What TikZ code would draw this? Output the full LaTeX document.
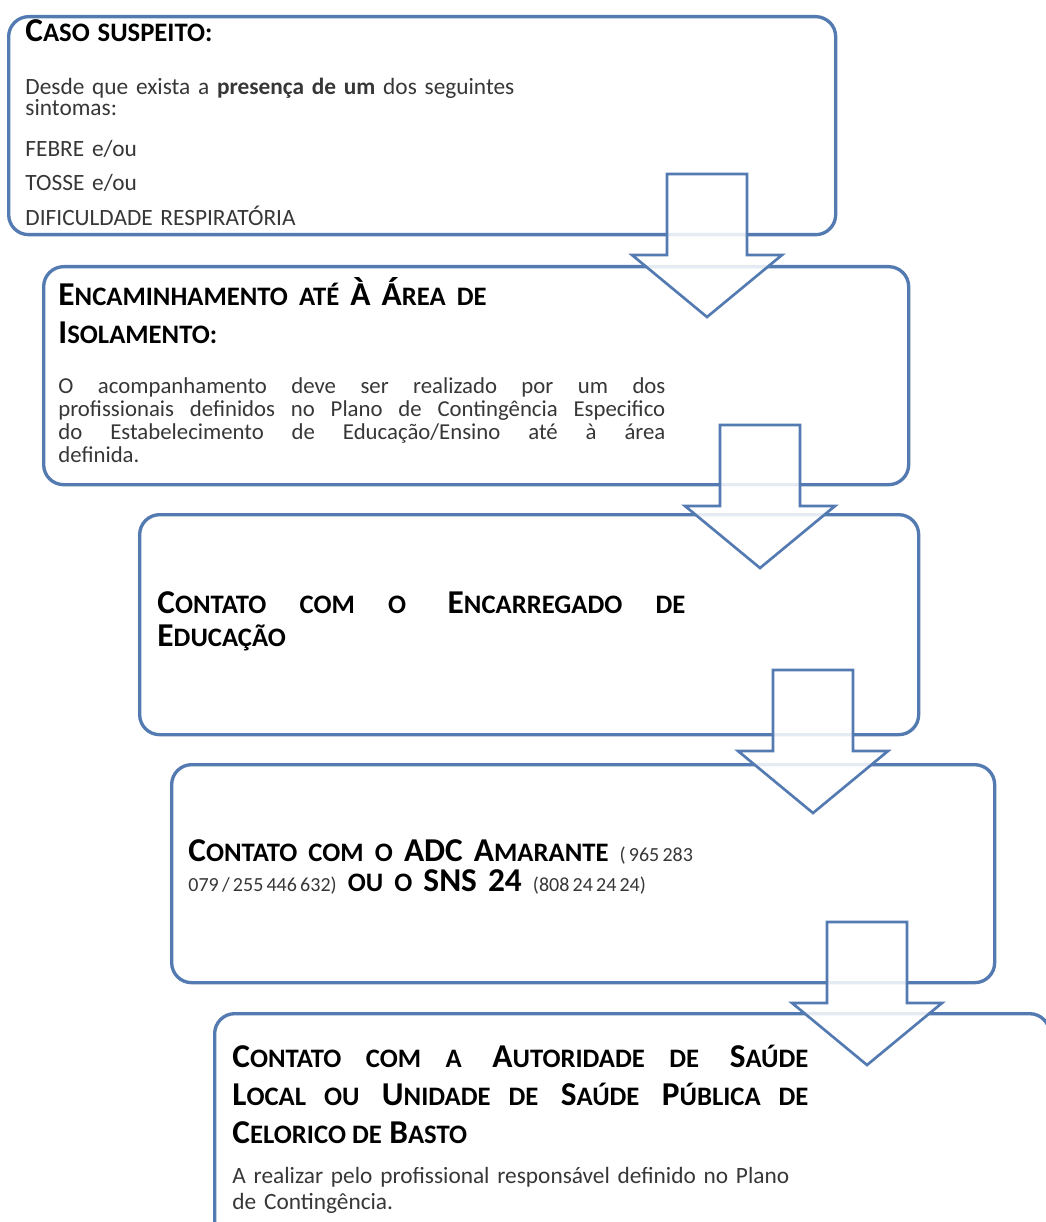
\documentclass[tikz,border=0pt]{standalone}
\usepackage{fontspec}
\setmainfont{Carlito}
\usetikzlibrary{positioning}

\definecolor{borda}{RGB}{84,122,178}
\definecolor{cinza}{RGB}{55,55,55}

\makeatletter
\newcommand\versal[1]{{\fontsize{\fpeval{0.8*\f@size}}{\f@baselineskip}\selectfont #1}}
\makeatother
\newcommand\fone[1]{{\mdseries\color{cinza}\fontsize{9}{9}\selectfont\spaceskip=.16em plus .05em\relax #1}}
\newcommand\seta[1]{\draw[seta] (#1) ++(-40,0) -- ++(80,0) -- ++(0,81) -- ++(35,0)
  -- ++(-75,62) -- ++(-75,-62) -- ++(35,0) -- cycle;}
\AtBeginDocument{\lineskiplimit=-100pt\relax}

\tikzset{
  caixa/.style={draw=borda, line width=1.5pt, rounded corners=9pt, fill=white,
    anchor=north west, inner sep=0pt},
  seta/.style={draw=borda, line width=1.2pt, fill=white, fill opacity=0.85},
  texto/.style={anchor=base west, inner sep=0pt, text=cinza, align=left},
  titulo/.style={texto, text=black, font=\bfseries\fontsize{15}{17.1}\selectfont},
}

\begin{document}
\begin{tikzpicture}[x=0.45pt, y=-0.45pt]
        \useasboundingbox (0,0) rectangle (1045,1222);
        \node[caixa, minimum width=827*0.45pt, minimum height=218*0.45pt] (c1) at (7,15) {};
        \node[caixa, minimum width=865*0.45pt, minimum height=218*0.45pt] (c2) at (42,265) {};
        \node[caixa, minimum width=779*0.45pt, minimum height=220*0.45pt] (c3) at (138,513) {};
        \node[caixa, minimum width=823*0.45pt, minimum height=218*0.45pt] (c4) at (170,763) {};
        \node[caixa, minimum width=835*0.45pt, minimum height=300*0.45pt] (c5) at (213,1012) {};
        \coordinate (s1) at (707,174);
        \coordinate (s2) at (760,425);
        \coordinate (s3) at (813,670);
        \coordinate (s4) at (867,922);
        \seta{s1}
        \seta{s2}
        \seta{s3}
        \seta{s4}
        \node[texto, text width=600*0.45pt, font=\fontsize{10.5}{9.45}\selectfont] (t1) at (25,42) {
            {\color{black}\bfseries\fontsize{15}{9.45}\selectfont C\versal{ASO SUSPEITO:}}\\[14.4pt]
            Desde que exista a \textbf{presença de um} dos seguintes\\
            sintomas:\\[9pt]
            FEBRE e/ou\\[5.85pt]
            TOSSE e/ou\\[6.3pt]
            DIFICULDADE RESPIRATÓRIA};
        \node[titulo, text width=500*0.45pt] (t2) at (58,305) {
            E\versal{NCAMINHAMENTO ATÉ} À Á\versal{REA DE}\\
            I\versal{SOLAMENTO:}};
        \node[texto, text width=607*0.45pt, align=justify,
            font=\fontsize{10.25}{10.35}\selectfont] (d2) at (58,393) {
            O acompanhamento deve ser realizado por um dos\linebreak
            profissionais definidos no Plano de Contingência Especifico\linebreak
            do Estabelecimento de Educação/Ensino até à área\linebreak
            definida.};
        \node[titulo, text width=528*0.45pt, align=justify,
            font=\bfseries\fontsize{15}{14.85}\selectfont] (t3) at (157,613) {
            C\versal{ONTATO COM O} E\versal{NCARREGADO DE}\linebreak
            E\versal{DUCAÇÃO}};
        \node[titulo, text width=560*0.45pt,
            font=\bfseries\fontsize{15}{13.5}\selectfont] (t4) at (188,861) {
            C\versal{ONTATO COM O} ADC A\versal{MARANTE} \fone{( 965 283}\\
            \fone{079 / 255 446 632)} \versal{OU O} SNS 24 \fone{(808 24 24 24)}};
        \node[titulo, text width=576*0.45pt, align=justify] (t5) at (232,1067) {
            C\versal{ONTATO COM A} A\versal{UTORIDADE DE} S\versal{AÚDE}\linebreak
            L\versal{OCAL OU} U\versal{NIDADE DE} S\versal{AÚDE} P\versal{ÚBLICA DE}\linebreak
            C\versal{ELORICO DE} B\versal{ASTO}};
        \node[texto, text width=580*0.45pt, font=\fontsize{10.5}{11.7}\selectfont] (d5) at (232,1183) {
            A realizar pelo profissional responsável definido no Plano\\
            de Contingência.};
\end{tikzpicture}
\end{document}
